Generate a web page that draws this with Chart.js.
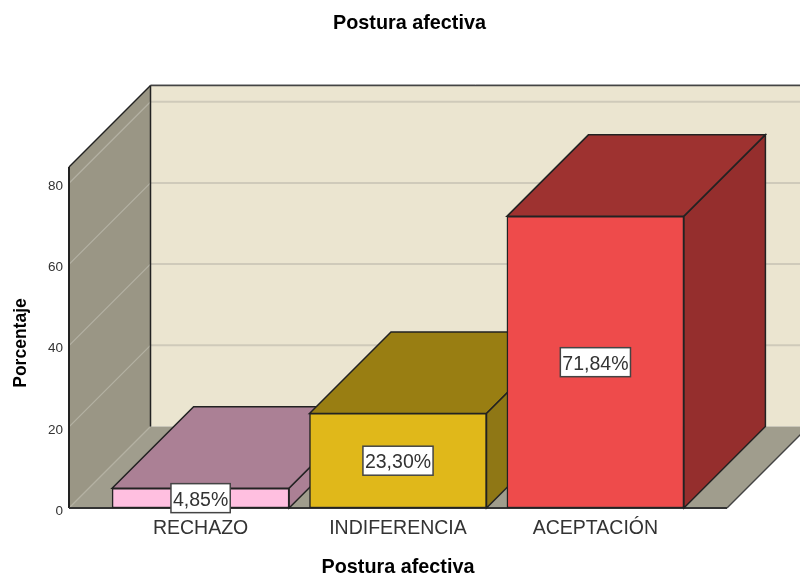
<!DOCTYPE html>
<html>
<head>
<meta charset="utf-8">
<title>Postura afectiva</title>
<script src="https://cdn.jsdelivr.net/npm/chart.js@4"></script>
<style>
  html, body { margin: 0; padding: 0; background: #fff; }
  canvas { display: block; }
</style>
</head>
<body>
<canvas id="posturaChart" width="800" height="577"></canvas>
<script>
const categories = ['RECHAZO', 'INDIFERENCIA', 'ACEPTACIÓN'];
const percentages = [4.85, 23.30, 71.84];
const valueLabels = ['4,85%', '23,30%', '71,84%'];

const frontColors = ['#FFBFE0', '#E0B81A', '#EE4B4B'];
const topColors = ['#AB8095', '#997E12', '#9E3230'];
const sideColors = ['#AB8095', '#8F7715', '#952E2D'];

const DEPTH = 81.5; // pseudo 3D offset, up and to the right
const FONT = '"Liberation Sans", Arial, sans-serif';
const EDGE = '#222';

function polygon(ctx, pts, fill, stroke, width) {
  ctx.beginPath();
  pts.forEach((p, i) => (i ? ctx.lineTo(p[0], p[1]) : ctx.moveTo(p[0], p[1])));
  ctx.closePath();
  if (fill) {
    ctx.fillStyle = fill;
    ctx.fill();
  }
  if (stroke) {
    ctx.strokeStyle = stroke;
    ctx.lineWidth = width || 1.5;
    ctx.stroke();
  }
}

function line(ctx, x1, y1, x2, y2, color, width) {
  ctx.beginPath();
  ctx.moveTo(x1, y1);
  ctx.lineTo(x2, y2);
  ctx.strokeStyle = color;
  ctx.lineWidth = width;
  ctx.stroke();
}

// Walls, floor, gridlines and the top/side faces of each bar
const box3d = {
  id: 'box3d',
  beforeDatasetsDraw(chart) {
    const { ctx, chartArea: a, scales: { y } } = chart;
    const d = DEPTH;
    ctx.save();

    // back wall, floor, left wall
    polygon(ctx, [[a.left + d, a.top - d], [a.right + d, a.top - d], [a.right + d, a.bottom - d], [a.left + d, a.bottom - d]], '#EBE5D0');
    polygon(ctx, [[a.left, a.bottom], [a.right, a.bottom], [a.right + d, a.bottom - d], [a.left + d, a.bottom - d]], '#A09D8D');
    polygon(ctx, [[a.left, a.top], [a.left + d, a.top - d], [a.left + d, a.bottom - d], [a.left, a.bottom]], '#9A9685');

    y.ticks.forEach((t) => {
      const py = y.getPixelForValue(t.value);
      if (t.value > 0) {
        line(ctx, a.left + d, py - d, a.right + d, py - d, '#CFCABA', 2);
      }
      line(ctx, a.left, py, a.left + d, py - d, '#B4B1A3', 1.2);
    });

    // edges of the box
    line(ctx, a.left + d, a.top - d - 1, a.right + d, a.top - d - 1, '#C9C9C9', 1);
    line(ctx, a.left + d, a.top - d, a.right + d, a.top - d, '#444', 1.5);
    line(ctx, a.left + d, a.top - d, a.left + d, a.bottom - d, EDGE, 1.5);
    line(ctx, a.left, a.top, a.left + d, a.top - d, EDGE, 1.5);
    line(ctx, a.left, a.top, a.left, a.bottom, EDGE, 2);
    line(ctx, a.left, a.bottom, a.right, a.bottom, '#333', 2);
    line(ctx, a.right, a.bottom, a.right + d, a.bottom - d, '#444', 1.5);

    // bar tops and sides, left to right
    chart.getDatasetMeta(0).data.forEach((bar, i) => {
      const half = bar.width / 2;
      const l = bar.x - half;
      const r = bar.x + half;
      const t = bar.y;
      const b = bar.base;
      polygon(ctx, [[l, t], [r, t], [r + d, t - d], [l + d, t - d]], topColors[i], EDGE);
      polygon(ctx, [[r, t], [r + d, t - d], [r + d, b - d], [r, b]], sideColors[i], EDGE);
    });
    ctx.restore();
  },
  afterDatasetsDraw(chart) {
    const { ctx } = chart;
    ctx.save();
    ctx.font = '19.5px ' + FONT;
    ctx.textAlign = 'center';
    ctx.textBaseline = 'middle';
    chart.getDatasetMeta(0).data.forEach((bar, i) => {
      const w = ctx.measureText(valueLabels[i]).width + 4;
      const h = 29;
      const cy = (bar.y + bar.base) / 2;
      ctx.fillStyle = '#fff';
      ctx.fillRect(bar.x - w / 2, cy - h / 2, w, h);
      ctx.strokeStyle = '#444';
      ctx.lineWidth = 1.5;
      ctx.strokeRect(bar.x - w / 2, cy - h / 2, w, h);
      ctx.fillStyle = '#333';
      ctx.fillText(valueLabels[i], bar.x, cy + 2);
    });

    // main title, centred on the whole box rather than the canvas
    ctx.font = 'bold 19.8px ' + FONT;
    ctx.fillStyle = '#000';
    ctx.fillText('Postura afectiva', 409.5, 24);

    // y axis title sits a little below the middle of the axis
    ctx.font = 'bold 17.5px ' + FONT;
    ctx.translate(21, 343);
    ctx.rotate(-Math.PI / 2);
    ctx.fillText('Porcentaje', 0, 0);
    ctx.restore();
  },
};

new Chart(document.getElementById('posturaChart').getContext('2d'), {
  type: 'bar',
  data: {
    datasets: [{
      data: percentages.map((value, i) => ({ x: i, y: value })),
      backgroundColor: frontColors,
      borderColor: EDGE,
      borderWidth: 1.5,
      borderSkipped: false,
      barThickness: 177,
    }],
  },
  options: {
    responsive: false,
    animation: false,
    layout: { padding: { top: 167, right: 73, left: 0, bottom: 0 } },
    plugins: {
      legend: { display: false },
      tooltip: { enabled: false },
    },
    scales: {
      x: {
        type: 'linear',
        offset: false,
        min: -2 / 3,
        max: 8 / 3,
        afterFit: (scale) => { scale.height = 69; },
        afterBuildTicks: (scale) => { scale.ticks = categories.map((c, i) => ({ value: i })); },
        grid: { display: false, drawTicks: false },
        border: { display: false },
        ticks: {
          autoSkip: false,
          maxRotation: 0,
          padding: 9,
          color: '#333',
          font: { family: FONT, size: 19.5 },
          callback: (value) => categories[value],
        },
        title: {
          display: true,
          text: 'Postura afectiva',
          color: '#000',
          font: { family: FONT, size: 19.8, weight: 'bold', lineHeight: 1 },
          padding: { top: 0, bottom: 0 },
        },
      },
      y: {
        min: 0,
        max: 84,
        afterFit: (scale) => { scale.width = 69; },
        grid: { display: false, drawTicks: false },
        border: { display: false },
        ticks: {
          stepSize: 20,
          includeBounds: false,
          padding: 6,
          labelOffset: 3,
          color: '#333',
          font: { family: FONT, size: 13.5 },
        },
      },
    },
  },
  plugins: [box3d],
});
</script>
</body>
</html>
